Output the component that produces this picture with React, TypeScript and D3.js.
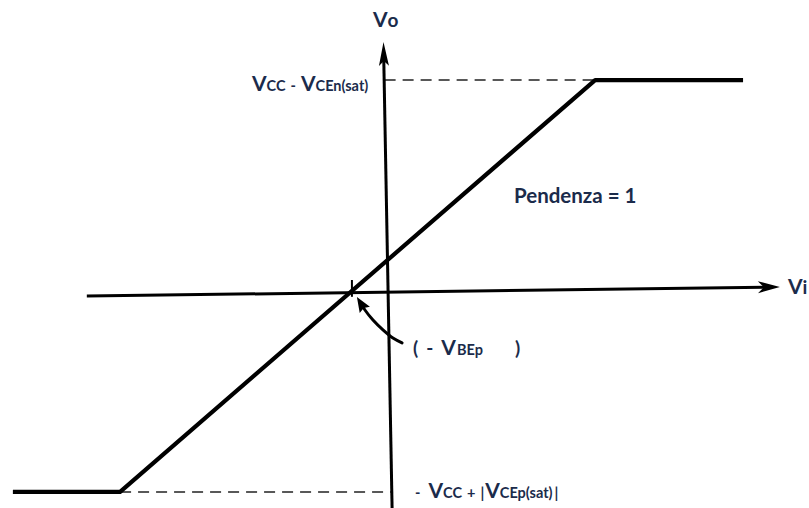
import React from "react";
import * as d3 from "d3";

const W = 809;
const H = 508;

// Transfer characteristic Vo(Vi), slope = 1 between the two saturation levels
const transferVi = [-13.47, -9.6, 7.55, 12.89];
const transferVo = [-8.33, -8.33, 8.83, 8.83];

// Hand-drawn axes (end points in data units)
const xAxisVi = [-10.8, 14.22];
const xAxisVo = [-0.17, 0.21];
const yAxisVi = [0.22, -0.09];
const yAxisVo = [-9.0, 10.42];

// Dashed guide lines to the saturation levels
const highDashVi = [-0.05, 7.55];
const highDashVo = [8.83, 8.83];
const lowDashVi = [-9.6, 0.2];
const lowDashVo = [-8.33, -8.33];

// Crossing point (-VBEp) tick
const crossVi = [-1.23, -1.23];
const crossVo = [-0.2, 0.5];

// Curved pointer toward the crossing point
const pointerVi = [0.58, 0.25, -0.11, -0.47, -0.76, -0.94, -1.05];
const pointerVo = [-2.12, -1.92, -1.58, -1.17, -0.75, -0.42, -0.21];

// Labels: [text, size class, extra gap before]
const labelVo: [string, string, number][] = [["V", "b", 0], ["o", "m", 0]];
const labelVi: [string, string, number][] = [["V", "b", 0], ["i", "m", 0]];
const labelHigh: [string, string, number][] = [["V", "b", 0], ["CC", "s", 0], ["-", "s", 5], ["V", "b", 5], ["CEn(sat)", "s", 0]];
const labelLow: [string, string, number][] = [["-", "s", 0], ["V", "b", 8], ["CC", "s", 0], ["+", "s", 5], ["|", "s", 5], ["V", "b", 1], ["CEp(sat)", "s", 0], ["|", "s", 2]];
const labelVbe: [string, string, number][] = [["(", "m", 0], ["-", "m", 8], ["V", "b", 8], ["BEp", "s", 1], [")", "m", 32]];
const labelSlope = "Pendenza = 1";

const TEXT = "#1b2b4b";
const FONT = "Lato, 'Open Sans', sans-serif";
const sizes: Record<string, number> = { b: 21, m: 19, s: 14.5 };

const x = d3.scaleLinear().domain([-10, 10]).range([109, 663]);
const y = d3.scaleLinear().domain([-10, 10]).range([532, 52]);

function pts(vx: number[], vy: number[]): [number, number][] {
  return vx.map((v, i) => [x(v), y(vy[i])]);
}

function arrowHead(from: [number, number], to: [number, number], len: number, half: number, notch: number) {
  const dx = to[0] - from[0];
  const dy = to[1] - from[1];
  const d = Math.hypot(dx, dy);
  const ux = dx / d, uy = dy / d;
  const px = -uy, py = ux;
  const bx = to[0] - ux * len, by = to[1] - uy * len;
  const nx = to[0] - ux * (len - notch), ny = to[1] - uy * (len - notch);
  return `M${to[0]},${to[1]} L${bx + px * half},${by + py * half} L${nx},${ny} L${bx - px * half},${by - py * half} Z`;
}

function Label({ parts, x0, y0 }: { parts: [string, string, number][]; x0: number; y0: number }) {
  return (
    <text x={x0} y={y0} fill={TEXT} fontFamily={FONT} fontWeight={700}>
      {parts.map(([t, s, g], i) => (
        <tspan key={i} fontSize={sizes[s]} dx={g}>{t}</tspan>
      ))}
    </text>
  );
}

export default function App() {
  const line = d3.line();
  const curve = d3.line().curve(d3.curveCatmullRom.alpha(0.5));

  const xa = pts(xAxisVi, xAxisVo);
  const ya = pts(yAxisVi, yAxisVo);
  const ptr = pts(pointerVi, pointerVo);

  return (
    <svg width={W} height={H} style={{ position: "absolute", left: 0, top: 0, background: "#fff" }}>
      <rect width={W} height={H} fill="#fff" />
      {/* dashed guides */}
      <path d={line(pts(highDashVi, highDashVo)) || ""} stroke="#222" strokeWidth={1.5} strokeDasharray="11 7" fill="none" />
      <path d={line(pts(lowDashVi, lowDashVo)) || ""} stroke="#222" strokeWidth={1.5} strokeDasharray="11 7" fill="none" />
      {/* axes */}
      <path d={line([xa[0], [xa[1][0] - 14, xa[1][1] + 0.2]]) || ""} stroke="#000" strokeWidth={3} fill="none" />
      <path d={arrowHead(xa[0], xa[1], 22, 6, 6)} fill="#000" />
      <path d={line([[ya[0][0], ya[0][1]], [ya[1][0] + 0.2, ya[1][1] + 14]]) || ""} stroke="#000" strokeWidth={3} fill="none" />
      <path d={arrowHead(ya[0], ya[1], 24, 5, 5)} fill="#000" />
      {/* transfer characteristic */}
      <path d={line(pts(transferVi, transferVo)) || ""} stroke="#000" strokeWidth={4.2} strokeLinejoin="round" fill="none" />
      {/* crossing tick */}
      <path d={line(pts(crossVi, crossVo)) || ""} stroke="#000" strokeWidth={2} fill="none" />
      {/* curved pointer */}
      <path d={curve(ptr.slice(0, ptr.length - 1)) || ""} stroke="#000" strokeWidth={3} fill="none" strokeLinecap="round" />
      <path d={arrowHead(ptr[ptr.length - 3], ptr[ptr.length - 1], 15, 6, 2)} fill="#000" />
      {/* labels */}
      <Label parts={labelVo} x0={373} y0={27} />
      <Label parts={labelVi} x0={788} y0={294} />
      <Label parts={labelHigh} x0={252} y0={91} />
      <Label parts={labelLow} x0={415} y0={498} />
      <Label parts={labelVbe} x0={413} y0={355} />
      <text x={514} y={203} fill={TEXT} fontFamily={FONT} fontWeight={700} fontSize={20.5}>{labelSlope}</text>
    </svg>
  );
}
